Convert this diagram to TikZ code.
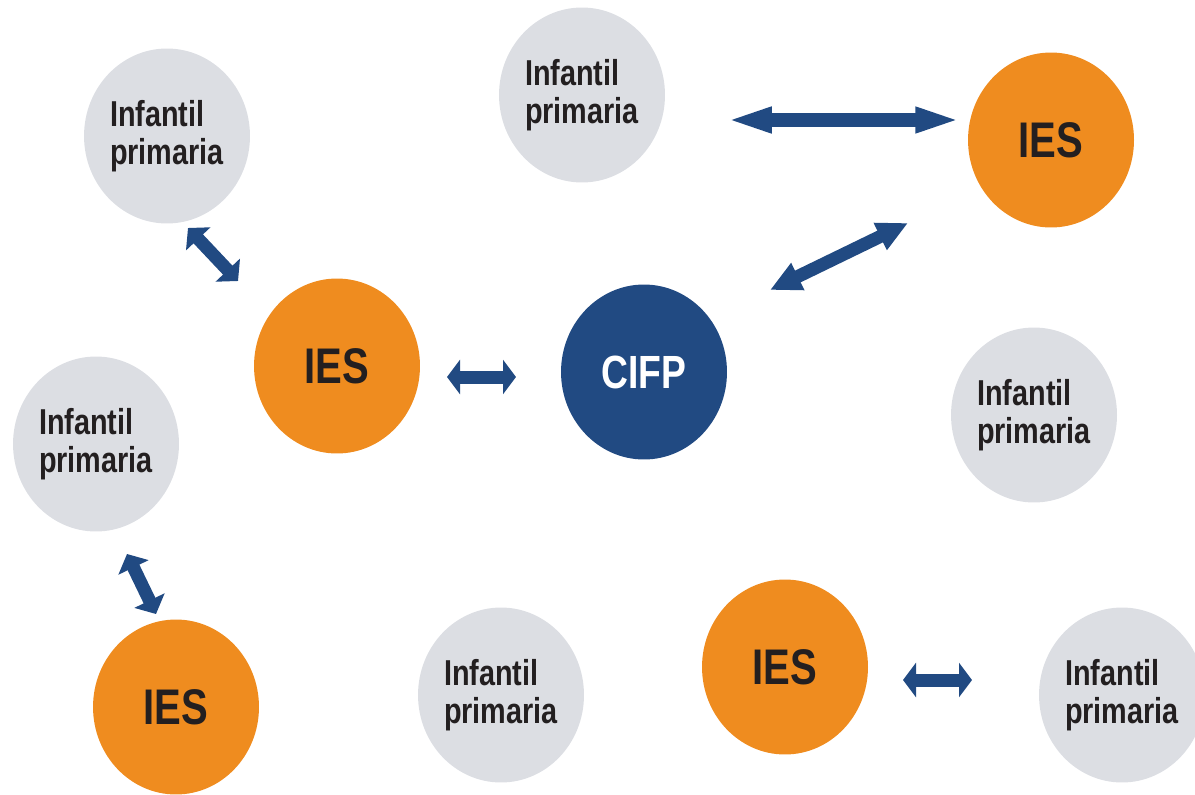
\documentclass[tikz,border=0pt]{standalone}
\usepackage{fontspec}
\usepackage{tikz}
\usetikzlibrary{shapes.geometric,arrows.meta}
\newfontfamily\narrowsans[FakeStretch=0.8]{Liberation Sans}
\definecolor{cifblue}{HTML}{214A82}
\definecolor{iesorange}{HTML}{EF8C1F}
\definecolor{schoolgray}{HTML}{DCDEE3}
\definecolor{textdark}{HTML}{231F20}
\tikzset{
	school/.style={ellipse, inner sep=0pt, minimum width=3.32cm, minimum height=3.5cm},
	primaria/.style={school, fill=schoolgray, text=textdark, align=left,
		font=\narrowsans\bfseries\fontsize{20.5}{21.5}\selectfont},
	ies/.style={school, fill=iesorange, text=textdark,
		font=\narrowsans\bfseries\fontsize{28.5}{30}\selectfont},
	cifp/.style={school, fill=cifblue, text=white,
		font=\narrowsans\bfseries\fontsize{26.5}{28}\selectfont},
	link/.style 2 args={draw=cifblue, line width=7.4pt,
		{Triangle[length=#1,width=#2]}-{Triangle[length=#1,width=#2]}}
}

\begin{document}
\begin{tikzpicture}[x=0.02cm, y=-0.02cm]
		\useasboundingbox (0,0) rectangle (1195,794);
		\clip (0,0) rectangle (1195,794);
		% centre
		\node[cifp] (cifp) at (644,372) {CIFP};
		% institutos
		\node[ies] (ies1) at (1051,140) {IES}; % top right
		\node[ies] (ies2) at (337,366) {IES}; % left of CIFP
		\node[ies] (ies3) at (176,707) {IES}; % bottom left
		\node[ies] (ies4) at (785,667) {IES}; % bottom middle
		% colegios
		\node[primaria] (col1) at (167,136) {Infantil\\primaria};
		\node[primaria] (col2) at (582,95) {Infantil\\primaria};
		\node[primaria] (col3) at (96,444) {Infantil\\primaria};
		\node[primaria] (col4) at (1034,415) {Infantil\\primaria};
		\node[primaria] (col5) at (501,695) {Infantil\\primaria};
		\node[primaria] (col6) at (1122,695) {Infantil\\primaria};
		% arrow ends
		\coordinate (a1l) at (725,120); \coordinate (a1r) at (962,120);
		\coordinate (a2l) at (770,290); \coordinate (a2r) at (908,223);
		\coordinate (a3l) at (447,377); \coordinate (a3r) at (516,377);
		\coordinate (a4l) at (188,228); \coordinate (a4r) at (238,281);
		\coordinate (a5l) at (127,554); \coordinate (a5r) at (156,614);
		\coordinate (a6l) at (903,680); \coordinate (a6r) at (972,680);
		% links
		\draw[link={26.6pt}{13pt}] (a1l) -- (a1r); % col2 - ies1
		\draw[link={17.6pt}{16pt}] (a2l) -- (a2r); % cifp - ies1
		\draw[link={7.4pt}{19.3pt}] (a3l) -- (a3r); % ies2 - cifp
		\draw[link={8.5pt}{18.7pt}] (a4l) -- (a4r); % col1 - ies2
		\draw[link={8.5pt}{18.7pt}] (a5l) -- (a5r); % col3 - ies3
		\draw[link={7.4pt}{19.3pt}] (a6l) -- (a6r); % ies4 - col6
\end{tikzpicture}
\end{document}
